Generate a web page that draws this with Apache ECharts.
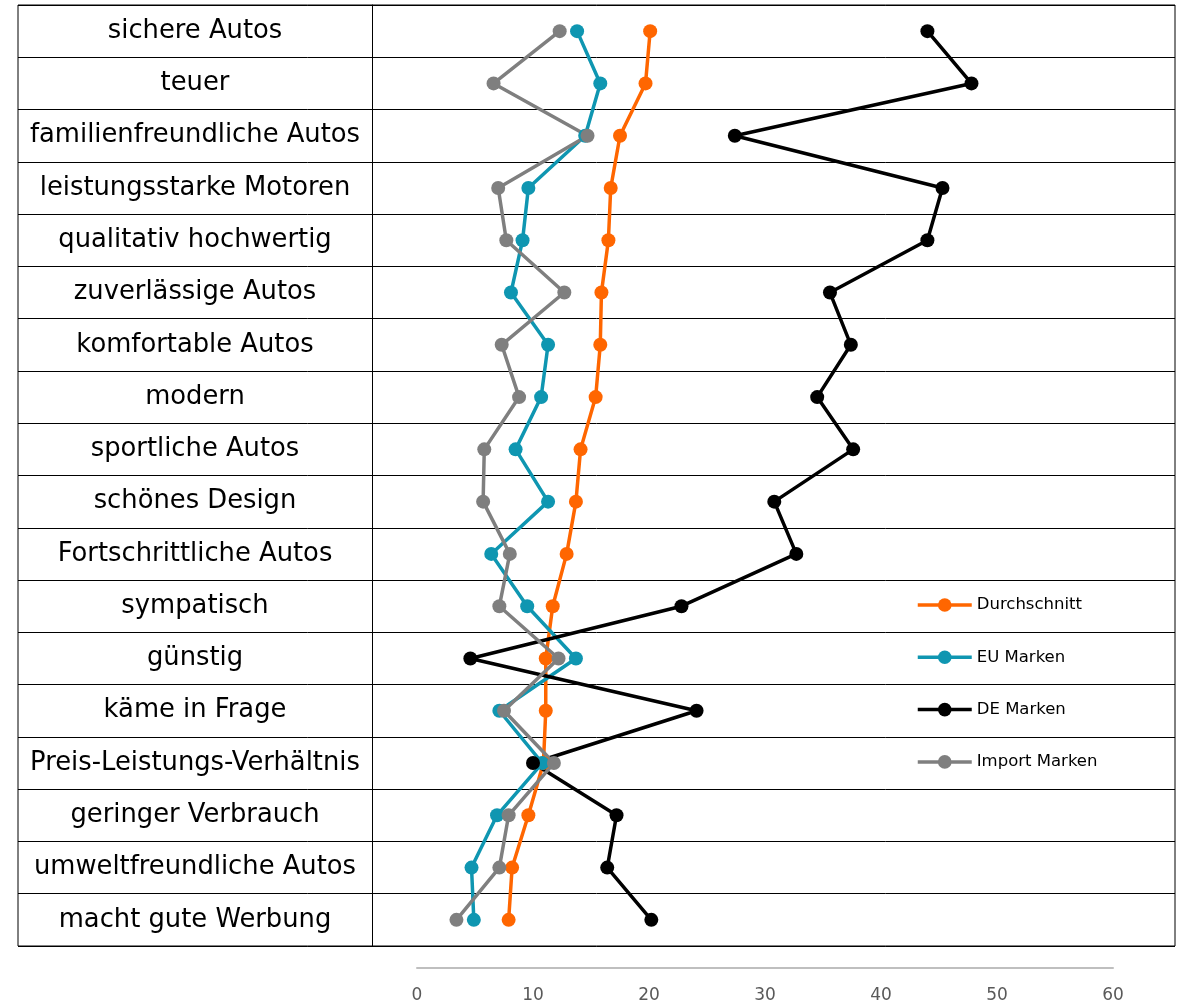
<!DOCTYPE html>
<html><head><meta charset="utf-8">
<script src="https://cdn.jsdelivr.net/npm/echarts@6/dist/echarts.min.js"></script>
<style>html,body{margin:0;padding:0;background:#fff}#c{width:1183px;height:1004px}</style>
</head><body><div id="c"></div>
<script>
const categories = ["sichere Autos","teuer","familienfreundliche Autos","leistungsstarke Motoren","qualitativ hochwertig","zuverlässige Autos","komfortable Autos","modern","sportliche Autos","schönes Design","Fortschrittliche Autos","sympatisch","günstig","käme in Frage","Preis-Leistungs-Verhältnis","geringer Verbrauch","umweltfreundliche Autos","macht gute Werbung"];
const durchschnitt = [20.1,19.7,17.5,16.7,16.5,15.9,15.8,15.4,14.1,13.7,12.9,11.7,11.1,11.1,10.9,9.6,8.2,7.9];
const euMarken = [13.8,15.8,14.5,9.6,9.1,8.1,11.3,10.7,8.5,11.3,6.4,9.5,13.7,7.1,10.8,6.9,4.7,4.9];
const deMarken = [44.0,47.8,27.4,45.3,44.0,35.6,37.4,34.5,37.6,30.8,32.7,22.8,4.6,24.1,10.0,17.2,16.4,20.2];
const importMarken = [12.3,6.6,14.7,7.0,7.7,12.7,7.3,8.8,5.8,5.7,8.0,7.1,12.2,7.5,11.8,7.9,7.1,3.4];
const xTicks = [0,10,20,30,40,50,60];
const seriesNames = ["Durchschnitt","EU Marken","DE Marken","Import Marken"];
const seriesData = [durchschnitt, euMarken, deMarken, importMarken];
const colors = ["#FF6600","#0F96B1","#000000","#7F7F7F"];

const chart = echarts.init(document.getElementById('c'));
const font = 'DejaVu Sans, Verdana, sans-serif';
chart.setOption({
  animation: false,
  grid: [
    {left: 18, right: 8, top: 5, bottom: 58, show: true, borderColor: '#000', borderWidth: 1, backgroundColor: 'transparent'},
    {left: 417, right: 70, top: 5, bottom: 58}
  ],
  legend: {
    orient: 'vertical', left: 916, top: 596.5, padding: 0, itemWidth: 54, itemHeight: 17, itemGap: 35.3,
    data: seriesNames,
    lineStyle: {width: 3.5},
    textStyle: {fontFamily: font, fontSize: 16.5, color: '#000'}
  },
  xAxis: [
    {gridIndex: 0, type: 'value', min: 0, max: 60, show: false},
    {gridIndex: 1, type: 'value', min: 0, max: 60, interval: 10, offset: 22,
     axisLine: {show: true, lineStyle: {color: '#BFBFBF', width: 2}},
     axisTick: {show: false}, splitLine: {show: false},
     axisLabel: {margin: 19, color: '#595959', fontFamily: font, fontSize: 17,
       formatter: v => xTicks.includes(v) ? String(v) : ''}}
  ],
  yAxis: [
    {gridIndex: 0, type: 'category', inverse: true, data: categories, offset: -354,
     axisLine: {show: true, lineStyle: {color: '#000', width: 1}},
     axisTick: {show: false},
     splitLine: {show: true, interval: 0, lineStyle: {color: '#000', width: 1}},
     axisLabel: {interval: 0, align: 'center', margin: 177, padding: [4, 0, 0, 0], color: '#000', fontFamily: font, fontSize: 25.8}},
    {gridIndex: 1, type: 'category', inverse: true, data: categories, show: false}
  ],
  series: seriesNames.map((n, i) => ({
    name: n, type: 'line', xAxisIndex: 1, yAxisIndex: 1,
    data: seriesData[i], symbol: 'circle', symbolSize: 14,
    itemStyle: {color: colors[i]}, lineStyle: {color: colors[i], width: 3.5}
  }))
});
</script></body></html>
